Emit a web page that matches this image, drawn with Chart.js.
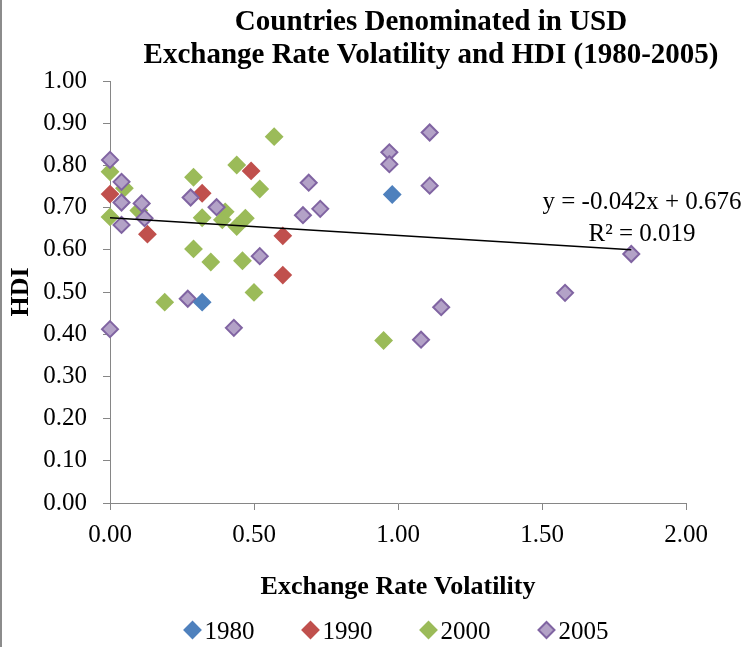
<!DOCTYPE html>
<html>
<head>
<meta charset="utf-8">
<script src="https://cdn.jsdelivr.net/npm/chart.js@4.4.1/dist/chart.umd.min.js"></script>
<style>
  html, body { margin: 0; padding: 0; background: #fff; }
</style>
</head>
<body>
<canvas id="hdiChart" width="751" height="647"></canvas>
<script>
// chart text
const titleLines = ['Countries Denominated in USD', 'Exchange Rate Volatility and HDI (1980-2005)'];
const xTitle = 'Exchange Rate Volatility';
const yTitle = 'HDI';
const seriesNames = ['1980', '1990', '2000', '2005'];

// values (x = volatility, y = HDI)
const x1980 = [0.32, 0.98];
const y1980 = [0.476, 0.731];

const x1990 = [0.00, 0.13, 0.32, 0.49, 0.60, 0.60];
const y1990 = [0.732, 0.637, 0.734, 0.787, 0.633, 0.540];

const x2000 = [0.00, 0.05, 0.10, 0.00, 0.29, 0.44, 0.52, 0.32, 0.40, 0.39, 0.44, 0.47, 0.29, 0.35, 0.46, 0.50, 0.19, 0.95, 0.57];
const y2000 = [0.785, 0.746, 0.693, 0.678, 0.772, 0.801, 0.744, 0.676, 0.690, 0.671, 0.655, 0.675, 0.602, 0.571, 0.574, 0.499, 0.476, 0.385, 0.868];

const x2005 = [0.00, 0.04, 0.04, 0.11, 0.12, 0.04, 0.28, 0.37, 0.69, 0.67, 0.73, 0.52, 0.27, 0.00, 0.43, 1.11, 0.97, 0.97, 1.11, 1.15, 1.08, 1.81, 1.58];
const y2005 = [0.813, 0.761, 0.712, 0.710, 0.675, 0.659, 0.724, 0.701, 0.759, 0.682, 0.697, 0.585, 0.484, 0.412, 0.415, 0.878, 0.831, 0.803, 0.752, 0.464, 0.387, 0.590, 0.498];

// linear trend shown on the chart
const trendSlope = -0.042;
const trendIntercept = 0.676;
const trendLabel = ['y = -0.042x + 0.676', 'R\u00B2 = 0.019'];

const xTicks = [0, 0.5, 1, 1.5, 2];

const fills = ['#4F81BD', '#C0504D', '#9BBB59', '#B3A2C7'];
const borders = ['#4F81BD', '#C0504D', '#9BBB59', '#8064A2'];

const serif = "'Liberation Serif', 'Times New Roman', serif";

function pts(xs, ys) {
  return xs.map((x, i) => ({x: x, y: ys[i]}));
}

const allX = [].concat(x1980, x1990, x2000, x2005);
const trendEnd = Math.max(...allX);

function diamondSet(i, xs, ys, order) {
  return {
    type: 'scatter',
    label: seriesNames[i],
    data: pts(xs, ys),
    pointStyle: 'rectRot',
    pointRadius: 8,
    pointHoverRadius: 8,
    borderWidth: 2,
    backgroundColor: fills[i],
    borderColor: borders[i],
    clip: false,
    order: order
  };
}

// title, trend label, legend and frame line
const extras = {
  id: 'extras',
  beforeDraw(chart) {
    const ctx = chart.ctx;
    ctx.save();
    ctx.fillStyle = '#8c8c8c';
    ctx.fillRect(0, 0, 2, chart.height);
    ctx.restore();
  },
  afterDraw(chart) {
    const ctx = chart.ctx;
    ctx.save();
    ctx.fillStyle = '#000';
    ctx.textAlign = 'center';
    ctx.textBaseline = 'alphabetic';
    ctx.font = 'bold 29px ' + serif;
    ctx.fillText(titleLines[0], 431, 30);
    ctx.fillText(titleLines[1], 431, 63);

    ctx.font = '25px ' + serif;
    ctx.fillText(trendLabel[0], 642, 209);
    ctx.fillText(trendLabel[1], 642, 241);

    // legend
    ctx.textAlign = 'left';
    const r = 8, gap = 3, spacing = 47;
    const widths = seriesNames.map(s => ctx.measureText(s).width);
    let total = 0;
    widths.forEach(w => { total += 2 * r + 2 + gap + w; });
    total += spacing * (seriesNames.length - 1);
    let x = 396 - total / 2;
    const yc = 630;
    seriesNames.forEach((name, i) => {
      const cx = x + r + 1;
      ctx.beginPath();
      ctx.moveTo(cx - r, yc);
      ctx.lineTo(cx, yc - r);
      ctx.lineTo(cx + r, yc);
      ctx.lineTo(cx, yc + r);
      ctx.closePath();
      ctx.fillStyle = fills[i];
      ctx.fill();
      ctx.lineWidth = 2;
      ctx.strokeStyle = borders[i];
      ctx.stroke();
      ctx.fillStyle = '#000';
      ctx.fillText(name, x + 2 * r + 2 + gap, 639);
      x += 2 * r + 2 + gap + widths[i] + spacing;
    });
    ctx.restore();
  }
};

new Chart(document.getElementById('hdiChart'), {
  data: {
    datasets: [
      {
        type: 'line',
        label: 'trend',
        data: [{x: 0, y: trendIntercept}, {x: trendEnd, y: trendIntercept + trendSlope * trendEnd}],
        borderColor: '#000',
        borderWidth: 1.5,
        pointRadius: 0,
        fill: false,
        clip: false,
        order: 0
      },
      diamondSet(0, x1980, y1980, 1),
      diamondSet(3, x2005, y2005, 2),
      diamondSet(1, x1990, y1990, 3),
      diamondSet(2, x2000, y2000, 4)
    ]
  },
  options: {
    responsive: false,
    animation: false,
    layout: {
      padding: {left: 0, right: 65, top: 81, bottom: 44}
    },
    plugins: {
      legend: {display: false},
      title: {display: false},
      tooltip: {enabled: false}
    },
    scales: {
      x: {
        type: 'linear',
        min: 0,
        max: 2,
        afterBuildTicks: (s) => { s.ticks = xTicks.map(v => ({value: v})); },
        afterFit: (s) => { s.height = 100; },
        ticks: {
          color: '#000',
          font: {family: serif, size: 25},
          padding: 10,
          callback: (v) => Number(v).toFixed(2)
        },
        grid: {
          display: true,
          drawOnChartArea: false,
          drawTicks: true,
          tickLength: 7,
          color: '#868686'
        },
        border: {display: true, color: '#868686', width: 1},
        title: {
          display: true,
          text: xTitle,
          color: '#000',
          font: {family: serif, size: 26, weight: 'bold'},
          padding: {top: 0, bottom: 0}
        }
      },
      y: {
        type: 'linear',
        min: 0,
        max: 1,
        afterFit: (s) => { s.width = 110; },
        ticks: {
          stepSize: 0.1,
          color: '#000',
          font: {family: serif, size: 25},
          padding: 16,
          callback: (v) => Number(v).toFixed(2)
        },
        grid: {
          display: true,
          drawOnChartArea: false,
          drawTicks: true,
          tickLength: 7,
          color: '#868686'
        },
        border: {display: true, color: '#868686', width: 1},
        title: {
          display: true,
          text: yTitle,
          color: '#000',
          font: {family: serif, size: 26, weight: 'bold'},
          padding: {top: 6, bottom: 0}
        }
      }
    }
  },
  plugins: [extras]
});
</script>
</body>
</html>
